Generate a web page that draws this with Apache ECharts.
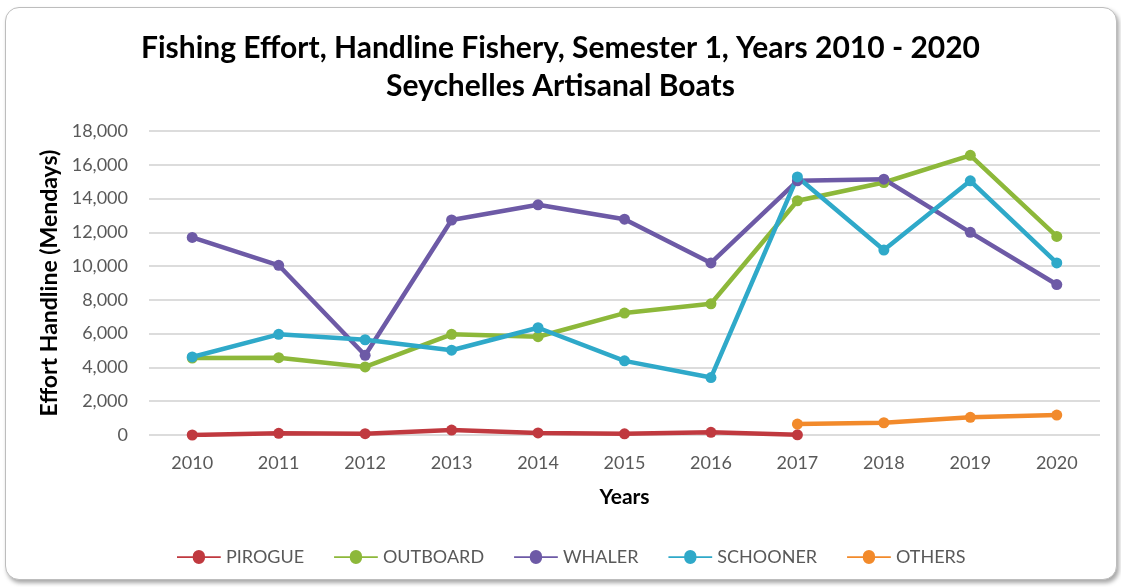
<!DOCTYPE html>
<html>
<head>
<meta charset="utf-8">
<script src="https://cdn.jsdelivr.net/npm/echarts@6/dist/echarts.min.js"></script>
<style>
  html, body { margin: 0; padding: 0; background: #ffffff; }
  #frame {
    position: absolute; left: 5px; top: 7px; width: 1110px; height: 571px;
    border: 1px solid #bdbdbd; border-radius: 14px; background: #fff;
    box-shadow: 2px 3px 4px rgba(0,0,0,0.35);
  }
  #chart { position: absolute; left: 0; top: 0; width: 1121px; height: 587px; }
</style>
</head>
<body>
<div id="frame"></div>
<div id="chart"></div>
<script>
// Semester 1 handline effort (mandays) by boat type
const years = ['2010','2011','2012','2013','2014','2015','2016','2017','2018','2019','2020'];
const pirogue   = [0, 100, 80, 290, 120, 70, 160, 10, null, null, null];
const outboard  = [4560, 4580, 4030, 5960, 5820, 7220, 7770, 13870, 14950, 16560, 11760];
const whaler    = [11700, 10050, 4720, 12730, 13630, 12780, 10190, 15050, 15150, 12000, 8910];
const schooner  = [4620, 5960, 5640, 5020, 6350, 4390, 3400, 15280, 10950, 15050, 10190];
const others    = [null, null, null, null, null, null, null, 650, 725, 1045, 1180];

const seriesNames  = ['PIROGUE', 'OUTBOARD', 'WHALER', 'SCHOONER', 'OTHERS'];
const seriesData   = [pirogue, outboard, whaler, schooner, others];
const seriesColors = ['#c0393f', '#8db83a', '#6d5aa6', '#2fa9c9', '#f28a2b'];

const font = 'Lato, "Open Sans", sans-serif';

const chart = echarts.init(document.getElementById('chart'), null, { renderer: 'canvas' });
chart.setOption({
  animation: false,
  backgroundColor: 'transparent',
  title: {
    text: 'Fishing Effort, Handline Fishery, Semester 1, Years 2010 - 2020\nSeychelles Artisanal Boats',
    left: 'center', top: 24,
    textStyle: { fontFamily: font, fontWeight: 'bold', fontSize: 30, color: '#000', lineHeight: 38 }
  },
  legend: {
    bottom: 16, left: 172,
    itemWidth: 50, itemHeight: 14, itemGap: 30,
    icon: 'path://M0,6 L18,6 A7,7 0 0 1 32,6 L50,6 L50,8 L32,8 A7,7 0 0 1 18,8 L0,8 Z',
    textStyle: { fontFamily: font, fontSize: 18, color: '#595959', padding: [0, 0, 0, -3] },
    data: seriesNames
  },
  grid: { left: 149, right: 21, top: 131, bottom: 152, containLabel: false },
  xAxis: {
    type: 'category', data: years, boundaryGap: true,
    name: 'Years', nameLocation: 'middle', nameGap: 52,
    nameTextStyle: { fontFamily: font, fontWeight: 'bold', fontSize: 21, color: '#000' },
    axisLine: { show: false }, axisTick: { show: false },
    axisLabel: { fontFamily: font, fontSize: 18, color: '#595959', margin: 19 }
  },
  yAxis: {
    type: 'value', min: 0, max: 18000, interval: 2000,
    name: 'Effort Handline (Mendays)', nameLocation: 'middle', nameGap: 88, nameRotate: 90,
    nameTextStyle: { fontFamily: font, fontWeight: 'bold', fontSize: 23, color: '#000' },
    axisLine: { show: false }, axisTick: { show: false },
    axisLabel: {
      fontFamily: font, fontSize: 18, color: '#595959', margin: 21,
      formatter: v => v.toLocaleString('en-US')
    },
    splitLine: { lineStyle: { color: '#d0d0d0', width: 1.5 } }
  },
  series: seriesNames.map((n, i) => ({
    name: n, type: 'line', data: seriesData[i],
    color: seriesColors[i],
    symbol: 'circle', symbolSize: 11,
    lineStyle: { width: 4.5 },
    connectNulls: false
  }))
});
</script>
</body>
</html>
